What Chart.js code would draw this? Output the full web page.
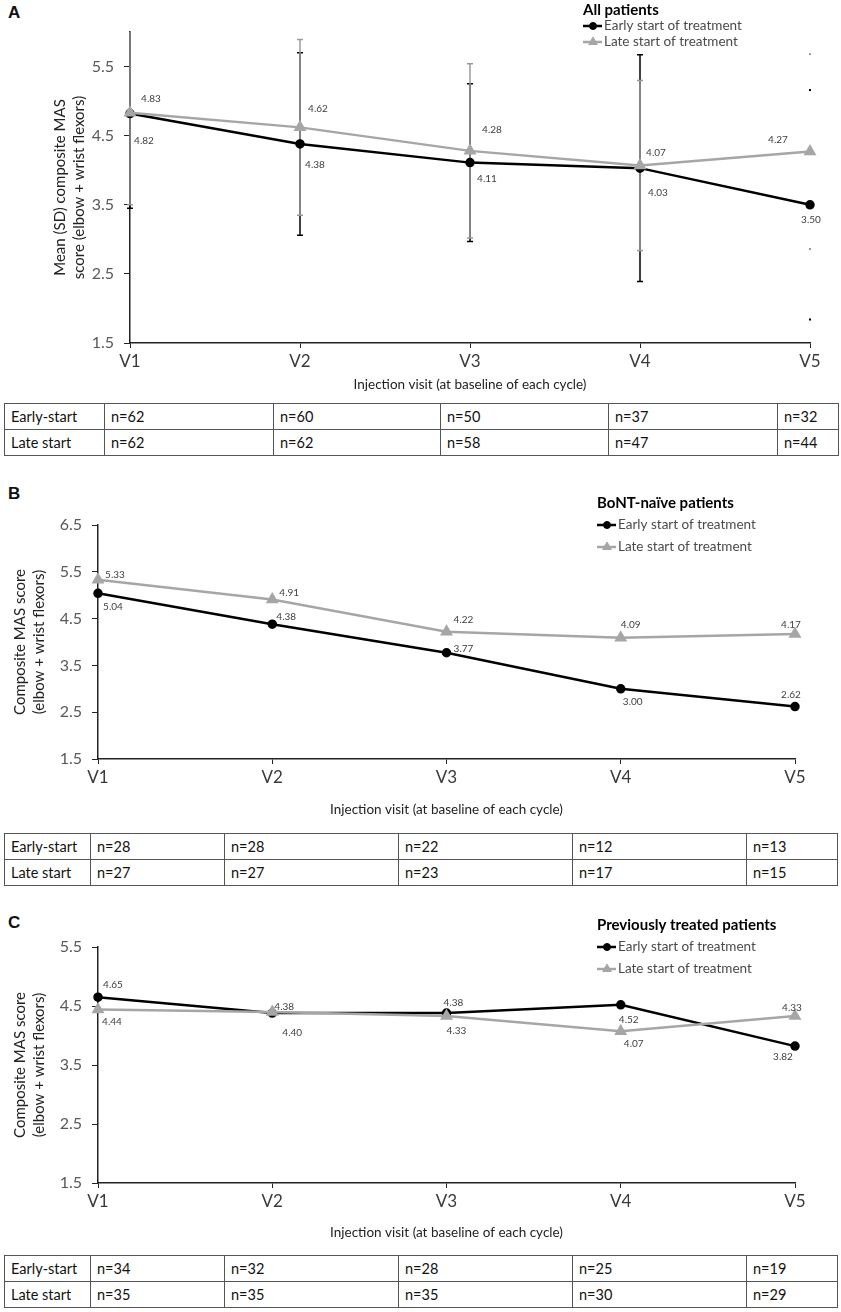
<!DOCTYPE html>
<html lang="en">
<head>
<meta charset="UTF-8">
<title>Composite MAS score by injection visit</title>
<script src="https://cdn.jsdelivr.net/npm/chart.js"></script>
<style>
  body { margin: 0; background: #fff; width: 841px; height: 1312px; position: relative; overflow: hidden; font-family: Lato, sans-serif; }
  canvas { position: absolute; left: 0; }
  .tag { position: absolute; left: 8px; font: bold 17px "Liberation Sans", Arial, sans-serif; color: #111; }
  table.n { position: absolute; left: 4px; border-collapse: collapse; table-layout: fixed; font: 14.5px Lato, sans-serif; color: #111; }
  table.n td { border: 1.5px solid #555; padding: 0 0 0 6px; height: 25px; white-space: nowrap; }
</style>
</head>
<body>
  <div class="tag" style="top:3px">A</div>
  <div class="tag" style="top:484px">B</div>
  <div class="tag" style="top:913px">C</div>
  <canvas id="chartA" width="841" height="400" style="top:0px"></canvas>
  <canvas id="chartB" width="841" height="352" style="top:470px"></canvas>
  <canvas id="chartC" width="841" height="356" style="top:890px"></canvas>

<script>
// visits on the x axis
const visits = ['V1', 'V2', 'V3', 'V4', 'V5'];

// A: all patients, mean (SD)
const earlyA = [4.82, 4.38, 4.11, 4.03, 3.50];
const lateA = [4.83, 4.62, 4.28, 4.07, 4.27];
const sdEarlyA = [1.37, 1.32, 1.14, 1.64, 1.66];
const sdLateA = [1.33, 1.27, 1.26, 1.23, 1.41];

// B: BoNT-naive patients
const earlyB = [5.04, 4.38, 3.77, 3.00, 2.62];
const lateB = [5.33, 4.91, 4.22, 4.09, 4.17];

// C: previously treated patients
const earlyC = [4.65, 4.38, 4.38, 4.52, 3.82];
const lateC = [4.44, 4.40, 4.33, 4.07, 4.33];

// y tick labels
const yTicksA = [1.5, 2.5, 3.5, 4.5, 5.5];
const yTicksB = [1.5, 2.5, 3.5, 4.5, 5.5, 6.5];
const yTicksC = [1.5, 2.5, 3.5, 4.5, 5.5];

// patients per visit (tables under each panel)
const nEarlyA = [62, 60, 50, 37, 32];
const nLateA = [62, 62, 58, 47, 44];
const nEarlyB = [28, 28, 22, 12, 13];
const nLateB = [27, 27, 23, 17, 15];
const nEarlyC = [34, 32, 28, 25, 19];
const nLateC = [35, 35, 35, 30, 29];

Chart.defaults.font.family = 'Lato, sans-serif';

// SD error bars, drawn under the lines
const sdBars = {
  id: 'sdBars',
  beforeDatasetsDraw(chart, args, opts) {
    if (!opts.sd) return;
    const { ctx, chartArea: a, scales: { x, y } } = chart;
    ctx.save();
    ctx.beginPath();
    ctx.rect(a.left - 6, a.top, a.width + 12, a.height);
    ctx.clip();
    opts.sd.forEach((sd, i) => {
      const data = chart.data.datasets[i].data;
      ctx.strokeStyle = opts.colors[i];
      ctx.fillStyle = opts.colors[i];
      ctx.lineWidth = 1.5;
      sd.forEach((s, j) => {
        const px = x.getPixelForValue(j);
        const hi = y.getPixelForValue(data[j] + s);
        const lo = y.getPixelForValue(data[j] - s);
        if (j >= opts.capsOnlyFrom) {
          // last visit: bar is almost invisible, only the cap ends show
          ctx.fillRect(px - 1, hi - 1, 2, 2);
          ctx.fillRect(px - 1, lo - 1, 2, 2);
          return;
        }
        ctx.beginPath();
        ctx.moveTo(px, hi); ctx.lineTo(px, lo);
        ctx.moveTo(px - 3, hi); ctx.lineTo(px + 3, hi);
        ctx.moveTo(px - 3, lo); ctx.lineTo(px + 3, lo);
        ctx.stroke();
      });
    });
    ctx.restore();
  }
};

// small value labels next to each point
const valueLabels = {
  id: 'valueLabels',
  afterDatasetsDraw(chart, args, opts) {
    const ctx = chart.ctx;
    ctx.save();
    ctx.font = '10px Lato, sans-serif';
    ctx.fillStyle = '#404040';
    ctx.textAlign = 'center';
    ctx.textBaseline = 'middle';
    chart.data.datasets.forEach((ds, i) => {
      chart.getDatasetMeta(i).data.forEach((pt, j) => {
        const [dx, dy] = opts.offsets[i][j];
        ctx.fillText(ds.data[j].toFixed(2), pt.x + dx, pt.y + dy);
      });
    });
    ctx.restore();
  }
};

// legend with a bold title, placed top right
const boxLegend = {
  id: 'boxLegend',
  afterDraw(chart, args, o) {
    const ctx = chart.ctx;
    ctx.save();
    ctx.textAlign = 'left';
    ctx.textBaseline = 'middle';
    ctx.font = 'bold 15px Lato, sans-serif';
    ctx.fillStyle = '#000';
    ctx.fillText(o.title, o.x, o.y);
    chart.data.datasets.forEach((ds, i) => {
      const ly = o.y + o.gap * (i + 1);
      ctx.strokeStyle = ds.borderColor;
      ctx.fillStyle = ds.backgroundColor;
      ctx.lineWidth = 2.5;
      ctx.beginPath();
      ctx.moveTo(o.x, ly); ctx.lineTo(o.x + 19, ly);
      ctx.stroke();
      ctx.lineWidth = 1;
      Chart.helpers.drawPoint(ctx, { pointStyle: ds.pointStyle, radius: ds.pointRadius, rotation: 0, borderWidth: 1 }, o.x + 10, ly);
      ctx.font = '13.5px Lato, sans-serif';
      ctx.fillStyle = '#4a4a4a';
      ctx.fillText(ds.label, o.x + 21, ly);
    });
    ctx.restore();
  }
};

function makePanel(id, p) {
  return new Chart(document.getElementById(id), {
    type: 'line',
    data: {
      labels: visits,
      datasets: [
        { label: 'Early start of treatment', data: p.early, borderColor: '#000', backgroundColor: '#000',
          borderWidth: 2.5, pointStyle: 'circle', pointRadius: 3.5, order: 1 },
        { label: 'Late start of treatment', data: p.late, borderColor: '#a6a6a6', backgroundColor: '#a6a6a6',
          borderWidth: 2.5, pointStyle: 'triangle', pointRadius: 5, order: 0 }
      ]
    },
    options: {
      responsive: false,
      animation: false,
      events: [],
      layout: { padding: { top: p.top, right: 841 - p.right, bottom: 0, left: 0 } },
      plugins: {
        legend: { display: false },
        tooltip: { enabled: false },
        sdBars: p.sd ? { sd: p.sd, colors: ['#000', '#9a9a9a'], capsOnlyFrom: 4 } : {},
        valueLabels: { offsets: p.offsets },
        boxLegend: p.legend
      },
      scales: {
        x: {
          offset: false,
          grid: { display: true, drawOnChartArea: false, tickLength: 5, color: '#222' },
          border: { color: '#222', width: 1.5 },
          ticks: { font: { size: 17 }, color: '#3a3a3a', padding: 3 },
          title: { display: true, text: 'Injection visit (at baseline of each cycle)',
                   font: { size: 13.5 }, color: '#222', padding: { top: 0, bottom: p.titlePad } },
          afterFit: s => { s.height = p.xh; }
        },
        y: {
          min: p.min, max: p.max,
          afterBuildTicks: s => { s.ticks = p.ticks.map(v => ({ value: v })); },
          grid: { display: true, drawOnChartArea: false, tickLength: 6, color: '#222' },
          border: { color: '#222', width: 1.5 },
          ticks: { font: { size: 16 }, color: '#595959', padding: 10, callback: v => v.toFixed(1) },
          title: { display: true, text: p.ytitle, font: { size: 15, lineHeight: 1.3 }, color: '#222',
                   padding: { top: p.ytitlePad, bottom: 0 } },
          afterFit: s => { s.width = p.left; }
        }
      }
    },
    plugins: [sdBars, valueLabels, boxLegend]
  });
}

makePanel('chartA', {
  early: earlyA, late: lateA, sd: [sdEarlyA, sdLateA],
  min: 1.5, max: 6.0, ticks: yTicksA,
  left: 130, right: 810, top: 32, xh: 57, titlePad: 7,
  ytitle: ['Mean (SD) composite MAS', 'score (elbow + wrist flexors)'], ytitlePad: 50,
  legend: { title: 'All patients', x: 583, y: 10, gap: 16 },
  offsets: [
    [[14, 27], [15, 21], [17, 16], [18, 25], [1, 15]],
    [[21, -14], [18, -19], [22, -21], [16, -13], [-32, -12]]
  ]
});

makePanel('chartB', {
  early: earlyB, late: lateB,
  min: 1.5, max: 6.5, ticks: yTicksB,
  left: 98, right: 795, top: 55, xh: 63, titlePad: 4,
  ytitle: ['Composite MAS score', '(elbow + wrist flexors)'], ytitlePad: 10,
  legend: { title: 'BoNT-naïve patients', x: 597, y: 33, gap: 22 },
  offsets: [
    [[15, 13], [14, -7], [17, -4], [12, 13], [-4, -12]],
    [[17, -5], [17, -7], [17, -12], [10, -13], [-4, -9]]
  ]
});

makePanel('chartC', {
  early: earlyC, late: lateC,
  min: 1.5, max: 5.5, ticks: yTicksC,
  left: 98, right: 795, top: 57, xh: 63, titlePad: 5,
  ytitle: ['Composite MAS score', '(elbow + wrist flexors)'], ytitlePad: 10,
  legend: { title: 'Previously treated patients', x: 597, y: 35, gap: 22 },
  offsets: [
    [[15, -12], [12, -6], [7, -10], [8, 15], [-12, 11]],
    [[14, 12], [20, 21], [10, 15], [13, 12], [-3, -8]]
  ]
});

// patient count tables
function buildTable(top, widths, early, late) {
  const t = document.createElement('table');
  t.className = 'n';
  t.style.top = top + 'px';
  t.style.width = widths.reduce((a, b) => a + b, 0) + 'px';
  const cg = document.createElement('colgroup');
  widths.forEach(w => {
    const c = document.createElement('col');
    c.style.width = w + 'px';
    cg.appendChild(c);
  });
  t.appendChild(cg);
  [['Early-start', early], ['Late start', late]].forEach(([name, vals]) => {
    const tr = t.insertRow();
    tr.insertCell().textContent = name;
    vals.forEach(v => { tr.insertCell().textContent = 'n=' + v; });
  });
  document.body.appendChild(t);
}

buildTable(403, [100, 169, 167, 168, 169, 61], nEarlyA, nLateA);
buildTable(833, [86, 134, 174, 174, 174, 91], nEarlyB, nLateB);
buildTable(1255, [86, 134, 174, 174, 174, 91], nEarlyC, nLateC);
</script>
</body>
</html>
